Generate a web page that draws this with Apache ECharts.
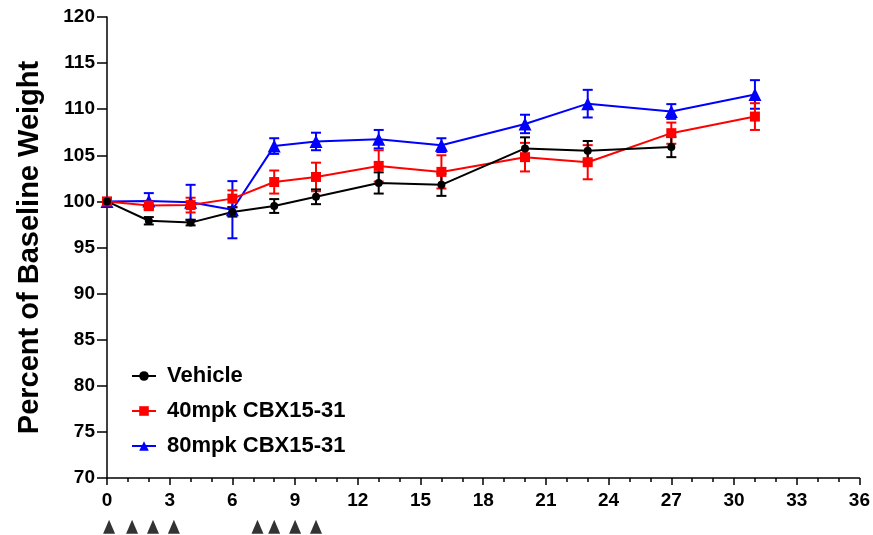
<html>
<head>
<meta charset="utf-8">
<script src="https://cdn.jsdelivr.net/npm/echarts@6/dist/echarts.min.js"></script>
</head>
<body style="margin:0;background:#fff;">
<div id="chart" style="width:873px;height:535px;"></div>
<script type="text/javascript">
// days of measurement
var vehDays = [0, 2, 4, 6, 8, 10, 13, 16, 20, 23, 27];
var vehMean = [100, 97.9, 97.7, 98.85, 99.5, 100.5, 102.0, 101.8, 105.75, 105.5, 105.9];
var vehErr = [0, 0.4, 0.3, 0.5, 0.75, 0.8, 1.15, 1.2, 1.2, 1.05, 1.1];

var lowDays = [0, 2, 4, 6, 8, 10, 13, 16, 20, 23, 27, 31];
var lowMean = [100, 99.55, 99.6, 100.3, 102.1, 102.65, 103.85, 103.2, 104.8, 104.25, 107.4, 109.2];
var lowErr = [0, 0.5, 0.8, 0.9, 1.25, 1.55, 1.7, 1.8, 1.55, 1.85, 1.15, 1.45];

var highDays = [0, 2, 4, 6, 8, 10, 13, 16, 20, 23, 27, 31];
var highMean = [100, 100.05, 99.9, 99.1, 106.0, 106.5, 106.75, 106.1, 108.4, 110.6, 109.75, 111.6];
var highErr = [0, 0.85, 1.9, 3.1, 0.85, 0.95, 1.0, 0.75, 1.0, 1.5, 0.8, 1.55];

// dosing arrows under the x axis
var doseDays = [0.1, 1.2, 2.2, 3.2, 7.2, 8.0, 9.0, 10.0];
var doseLevel = 64.7;

var names = ['Vehicle', '40mpk CBX15-31', '80mpk CBX15-31'];

function pairs(xs, ys) {
	return xs.map(function (x, i) { return [x, ys[i]]; });
}

function errSeries(xs, ys, es, color) {
	var data = xs.map(function (x, i) { return [x, ys[i] - es[i], ys[i] + es[i]]; });
	return {
		type: 'custom',
		silent: true,
		data: data,
		encode: { x: 0, y: [1, 2] },
		renderItem: function (params, api) {
			var lo = api.coord([api.value(0), api.value(1)]);
			var hi = api.coord([api.value(0), api.value(2)]);
			var w = 5;
			var st = { stroke: color, lineWidth: 2 };
			return {
				type: 'group',
				children: [
					{ type: 'line', shape: { x1: lo[0], y1: lo[1], x2: hi[0], y2: hi[1] }, style: st },
					{ type: 'line', shape: { x1: lo[0] - w, y1: lo[1], x2: lo[0] + w, y2: lo[1] }, style: st },
					{ type: 'line', shape: { x1: hi[0] - w, y1: hi[1], x2: hi[0] + w, y2: hi[1] }, style: st }
				]
			};
		}
	};
}

function lineSeries(name, xs, ys, color, symbol, size) {
	return {
		name: name,
		type: 'line',
		data: pairs(xs, ys),
		color: color,
		symbol: symbol,
		symbolSize: size,
		lineStyle: { width: 2, color: color },
		itemStyle: { color: color },
		emphasis: { disabled: true }
	};
}

var myChart = echarts.init(document.getElementById('chart'));
var axisFont = { color: '#000', fontWeight: 'bold', fontSize: 19, fontFamily: 'Liberation Sans' };
var option = {
	animation: false,
	backgroundColor: '#fff',
	grid: { left: 107, top: 17, width: 756, height: 461 },
	legend: {
		data: names,
		orient: 'vertical',
		left: 126,
		top: 360,
		itemWidth: 24,
		itemHeight: 12,
		itemGap: 13,
		textStyle: { color: '#000', fontWeight: 'bold', fontSize: 22, fontFamily: 'Liberation Sans', padding: [0, 0, 0, 6] }
	},
	xAxis: {
		type: 'value',
		min: 0,
		max: 36,
		interval: 3,
		splitLine: { show: false },
		axisLine: { lineStyle: { color: '#000', width: 1.5 } },
		axisTick: { length: 7, lineStyle: { color: '#000', width: 1.5 } },
		minorTick: { show: true, splitNumber: 3, length: 4, lineStyle: { color: '#000', width: 1.5 } },
		axisLabel: Object.assign({ margin: 13 }, axisFont)
	},
	yAxis: {
		type: 'value',
		min: 70,
		max: 120,
		interval: 5,
		name: 'Percent of Baseline Weight',
		nameLocation: 'middle',
		nameGap: 63,
		nameTextStyle: { color: '#000', fontWeight: 'bold', fontSize: 29, fontFamily: 'Liberation Sans' },
		splitLine: { show: false },
		axisLine: { show: true, lineStyle: { color: '#000', width: 1.5 } },
		axisTick: { show: true, length: 10, lineStyle: { color: '#000', width: 1.5 } },
		axisLabel: Object.assign({ margin: 12 }, axisFont)
	},
	series: [
		errSeries(highDays, highMean, highErr, '#0000ff'),
		lineSeries(names[2], highDays, highMean, '#0000ff', 'triangle', 13),
		errSeries(lowDays, lowMean, lowErr, '#ff0000'),
		lineSeries(names[1], lowDays, lowMean, '#ff0000', 'rect', 10),
		errSeries(vehDays, vehMean, vehErr, '#000000'),
		lineSeries(names[0], vehDays, vehMean, '#000000', 'circle', 8),
		{
			type: 'scatter',
			silent: true,
			clip: false,
			symbol: 'triangle',
			symbolSize: [12, 14],
			itemStyle: { color: '#000' },
			data: doseDays.map(function (d) { return [d, doseLevel]; })
		}
	]
};
myChart.setOption(option);
</script>
</body>
</html>
